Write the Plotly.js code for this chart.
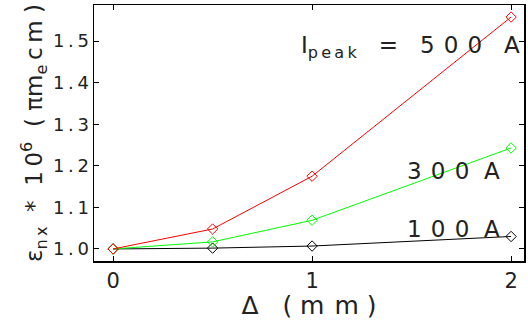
<!DOCTYPE html>
<html>
<head>
<meta charset="utf-8">
<script src="https://cdn.plot.ly/plotly-3.0.1.min.js"></script>
<style>
body { margin: 0; background: #fff; }
#plot { width: 528px; height: 320px; }
</style>
</head>
<body>
<div id="plot"></div>
<script>
// separation Delta (mm)
var delta = [0, 0.5, 1, 2];
// normalised emittance for each peak current
var eps500 = [1.0, 1.048, 1.175, 1.558];
var eps300 = [1.0, 1.017, 1.069, 1.243];
var eps100 = [1.0, 1.002, 1.007, 1.030];

var xTicks = [0, 1, 2];
var xTickText = ['0', '1', '2'];
var yTicks = [1.0, 1.1, 1.2, 1.3, 1.4, 1.5];
var yTickText = ['1\u2009.\u20090', '1\u2009.\u20091', '1\u2009.\u20092', '1\u2009.\u20093', '1\u2009.\u20094', '1\u2009.\u20095'];

var sp = '\u00a0';
var th = '\u2009';
var fnt = 'DejaVu Sans, sans-serif';

function line(y, col) {
    return {
        x: delta,
        y: y,
        type: 'scatter',
        mode: 'lines+markers',
        line: {color: col, width: 1},
        marker: {symbol: 'diamond-open', size: 8, color: col, line: {width: 1}},
        hoverinfo: 'none',
        showlegend: false
    };
}

var data = [
    line(eps100, 'rgb(0,0,0)'),
    line(eps300, 'rgb(0,255,0)'),
    line(eps500, 'rgb(255,0,0)')
];

var layout = {
    width: 528,
    height: 320,
    margin: {l: 94, r: 4, t: 5, b: 59},
    paper_bgcolor: '#fff',
    plot_bgcolor: '#fff',
    font: {family: fnt, color: '#222', size: 17},
    xaxis: {
        range: [-0.096, 2.065],
        tickmode: 'array',
        tickvals: xTicks,
        ticktext: xTickText,
        ticks: 'inside',
        ticklen: 5,
        tickcolor: '#000',
        showgrid: false,
        zeroline: false,
        showline: true,
        linecolor: '#000',
        linewidth: 1.5,
        mirror: 'ticks',
        tickfont: {size: 21},
        title: {text: 'Δ' + sp + sp + sp + '(' + sp + 'm' + th + th + 'm' + sp + ')', font: {size: 25}, standoff: 4}
    },
    yaxis: {
        range: [0.971, 1.587],
        tickmode: 'array',
        tickvals: yTicks,
        ticktext: yTickText,
        ticks: 'inside',
        ticklen: 5,
        tickcolor: '#000',
        showgrid: false,
        zeroline: false,
        showline: true,
        linecolor: '#000',
        linewidth: 1.5,
        mirror: 'ticks',
        tickfont: {size: 18},
        title: {
            text: 'ε<sub>' + 'n' + th + 'x</sub>' + sp + sp + '*' + sp + sp + '1' + th + '0<sup>6</sup>' + sp + sp +
                  '(' + sp + 'πm<sub>e</sub>' + th + 'c' + th + 'm' + sp + ')',
            font: {size: 23},
            standoff: 4
        }
    },
    annotations: [
        {x: 0.995, y: 1.487, xref: 'paper', yref: 'y', xanchor: 'right', showarrow: false,
         text: 'I<sub>' + 'p' + th + 'e' + th + 'a' + th + 'k</sub>' + sp + sp + sp + '=' + sp + sp + sp +
               '5' + th + th + '0' + th + th + '0' + sp + sp + sp + 'A',
         font: {size: 23}},
        {x: 1.955, y: 1.187, xref: 'x', yref: 'y', xanchor: 'right', showarrow: false,
         text: '3' + th + th + '0' + th + th + '0' + sp + sp + 'A', font: {size: 23}},
        {x: 1.955, y: 1.048, xref: 'x', yref: 'y', xanchor: 'right', showarrow: false,
         text: '1' + th + th + '0' + th + th + '0' + sp + sp + 'A', font: {size: 23}}
    ]
};

Plotly.newPlot('plot', data, layout, {displayModeBar: false, staticPlot: true});
</script>
</body>
</html>
